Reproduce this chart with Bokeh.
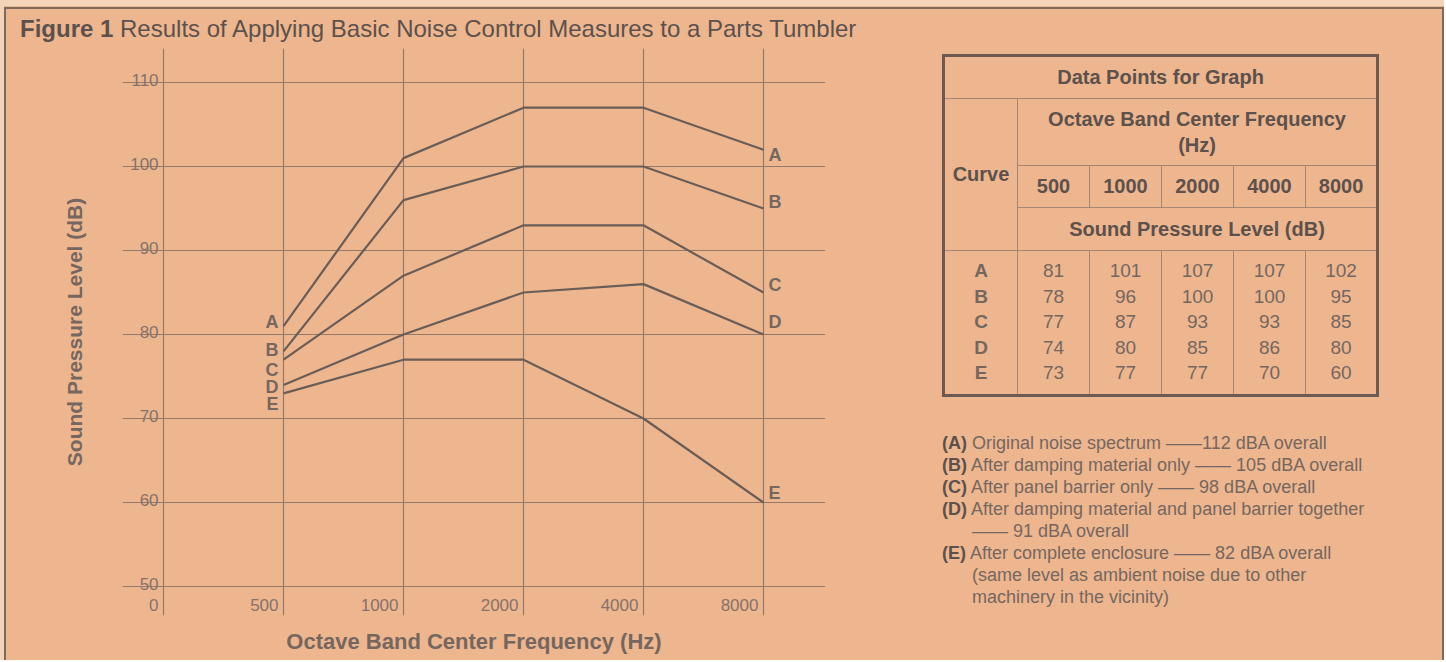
from bokeh.plotting import figure
from bokeh.models import Div, ColumnDataSource, FixedTicker, Range1d
from bokeh.layouts import column, row
from bokeh.embed import file_html
from bokeh.resources import INLINE
from bokeh.core.properties import value

# ---------------- data ----------------
title_bold = "Figure 1"
title_rest = "Results of Applying Basic Noise Control Measures to a Parts Tumbler"
x_title = "Octave Band Center Frequency (Hz)"
y_title = "Sound Pressure Level (dB)"

frequencies = ["500", "1000", "2000", "4000", "8000"]
x_tick_labels = ["0", "500", "1000", "2000", "4000", "8000"]
y_ticks = [50, 60, 70, 80, 90, 100, 110]

curve_names = ["A", "B", "C", "D", "E"]
curve_A = [81, 101, 107, 107, 102]
curve_B = [78, 96, 100, 100, 95]
curve_C = [77, 87, 93, 93, 85]
curve_D = [74, 80, 85, 86, 80]
curve_E = [73, 77, 77, 70, 60]

overall_dba = [112, 105, 98, 91, 82]
note_desc = [
    "Original noise spectrum",
    "After damping material only",
    "After panel barrier only",
    "After damping material and panel barrier together\n",
    "After complete enclosure",
]
note_sep = [" \u2014\u2014", " \u2014\u2014 ", " \u2014\u2014 ", " \u2014\u2014 ", " \u2014\u2014 "]
note_extra = ["", "", "", "", "\n(same level as ambient noise due to other\nmachinery in the vicinity)"]

# ---------------- style ----------------
BG = "#EDB68F"
FONT = "Liberation Sans"
DARK = "#5c514c"
MID = "#75675f"
GRID = "#957a68"
LINE = "#6a5d58"
EDGE = "#7d6a5e"
LIGHT = "#F4D4B8"

curves = [curve_A, curve_B, curve_C, curve_D, curve_E]
xpos = list(range(1, len(frequencies) + 1))

p = figure(width=908, height=616,
           x_range=Range1d(-0.342, 5.517), y_range=Range1d(46.55, 114.05),
           output_backend="svg", toolbar_location=None,
           min_border_left=122, min_border_right=83, min_border_top=4, min_border_bottom=45)
p.background_fill_alpha = 0
p.border_fill_alpha = 0
p.outline_line_color = None

p.xgrid.ticker = FixedTicker(ticks=list(range(len(x_tick_labels))))
p.ygrid.ticker = FixedTicker(ticks=y_ticks)
for g in (p.xgrid, p.ygrid):
    g.grid_line_color = GRID
    g.grid_line_width = 1.2

for ax, lab in ((p.xaxis, x_title), (p.yaxis, y_title)):
    ax.ticker = FixedTicker(ticks=[])
    ax.axis_line_color = None
    ax.major_tick_line_color = None
    ax.minor_tick_line_color = None
    ax.major_label_text_font_size = "0px"
    ax.axis_label = lab
    ax.axis_label_text_font = FONT
    ax.axis_label_text_font_style = "bold"
    ax.axis_label_text_color = MID
p.xaxis.axis_label_text_font_size = "22px"
p.yaxis.axis_label_text_font_size = "21px"
p.xaxis.axis_label_standoff = 13
p.yaxis.axis_label_standoff = 37

# tick labels drawn inside the frame
p.text(x=[0] * len(y_ticks), y=y_ticks, text=[str(v) for v in y_ticks],
       text_align="right", text_baseline="alphabetic", x_offset=-5, y_offset=-3,
       text_font=value(FONT), text_font_size="17px", text_color="#86726a")
p.text(x=list(range(len(x_tick_labels))), y=[y_ticks[0]] * len(x_tick_labels), text=x_tick_labels,
       text_align="right", text_baseline="middle", x_offset=-5, y_offset=18,
       text_font=value(FONT), text_font_size="17px", text_color="#86726a")

# curves
for vals in curves:
    p.line(x=xpos, y=vals, line_color=LINE, line_width=2.2)

left_src = ColumnDataSource(dict(x=[xpos[0]] * 5, y=[c[0] for c in curves], t=curve_names,
                                 dy=[-4, -1, 10, 2, 11]))
right_src = ColumnDataSource(dict(x=[xpos[-1]] * 5, y=[c[-1] for c in curves], t=curve_names,
                                  dy=[5, -7, -8, -13, -10]))
p.text(x="x", y="y", text="t", y_offset="dy", x_offset=-5, source=left_src,
       text_align="right", text_baseline="middle", text_font=value(FONT),
       text_font_size="18px", text_font_style="bold", text_color=MID)
p.text(x="x", y="y", text="t", y_offset="dy", x_offset=5, source=right_src,
       text_align="left", text_baseline="middle", text_font=value(FONT),
       text_font_size="18px", text_font_style="bold", text_color=MID)

# ---------------- title ----------------
title_div = Div(text=(f'<div style="font-family:\'{FONT}\';font-size:24px;color:{DARK};'
                      f'padding:15px 0 0 20px;line-height:28px;white-space:nowrap;">'
                      f'<b>{title_bold}</b> {title_rest}</div>'),
                width=1444, height=44, margin=0)

# ---------------- table ----------------
IN = "1px solid #a48672"
hdr = f"font-weight:bold;font-size:20px;color:{DARK};text-align:center;padding:0;"
cells = f"font-size:19px;color:{MID};text-align:center;padding:0;line-height:25.6px;"
html = [f'<div style="font-family:\'{FONT}\';padding:10px 0 0 34px;">',
        f'<table style="border-collapse:collapse;table-layout:fixed;width:435px;border:3px solid #6a5a52;">',
        '<colgroup><col style="width:74px">' + "".join('<col style="width:72px">' for _ in frequencies) + '</colgroup>',
        f'<tr><td colspan="{len(frequencies)+1}" style="{hdr}height:43px;border-bottom:{IN};">Data Points for Graph</td></tr>',
        f'<tr><td rowspan="3" style="{hdr}border-right:{IN};border-bottom:{IN};">Curve</td>'
        f'<td colspan="{len(frequencies)}" style="{hdr}height:67px;line-height:26px;border-bottom:{IN};">Octave Band Center Frequency<br>(Hz)</td></tr>',
        '<tr>' + "".join(f'<td style="{hdr}height:42px;border-bottom:{IN};border-right:{IN};">{f}</td>' for f in frequencies) + '</tr>',
        f'<tr><td colspan="{len(frequencies)}" style="{hdr}height:43px;border-bottom:{IN};">Sound Pressure Level (dB)</td></tr>']
for i, name in enumerate(curve_names):
    pt = "7px" if i == 0 else "0"
    pb = "8px" if i == len(curve_names) - 1 else "0"
    html.append('<tr>' + f'<td style="{cells}font-weight:bold;padding-top:{pt};padding-bottom:{pb};border-right:{IN};">{name}</td>'
                + "".join(f'<td style="{cells}padding-top:{pt};padding-bottom:{pb};border-right:{IN};">{v}</td>' for v in curves[i])
                + '</tr>')
html.append('</table>')

# notes
html.append(f'<div style="margin-top:35px;font-size:18px;line-height:22px;color:{MID};white-space:nowrap;">')
for name, desc, sep, dba, extra in zip(curve_names, note_desc, note_sep, overall_dba, note_extra):
    text = f"{desc}{sep}{dba} dBA overall{extra}".replace("\n ", "\n").replace("\n", "<br>")
    html.append(f'<div style="padding-left:30px;text-indent:-30px;"><b style="color:{DARK}">({name})</b> {text}</div>')
html.append('</div></div>')

right_div = Div(text="".join(html), width=536, height=616, margin=0)

frame_bg = (f"linear-gradient({EDGE},{EDGE}) 4px 7px/2px 100% no-repeat,"
            f"linear-gradient({EDGE},{EDGE}) 4px 7px/100% 2px no-repeat,"
            f"linear-gradient({EDGE},{EDGE}) right 0 top 7px/2px 100% no-repeat,"
            f"linear-gradient({LIGHT},{LIGHT}) 0 0/100% 6px no-repeat,"
            f"linear-gradient({LIGHT},{LIGHT}) 0 0/4px 100% no-repeat,"
            f"{BG}")

layout = column(title_div, row(p, right_div, margin=0), margin=0,
                styles={"background": frame_bg})

open("out.html", "w").write(file_html(layout, INLINE))
